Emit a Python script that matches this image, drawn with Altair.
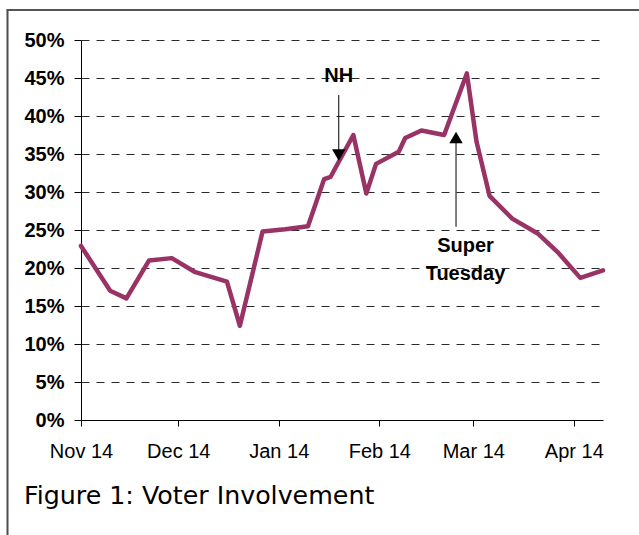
import altair as alt
import pandas as pd

# ---- data ----
dates = ["2003-11-14", "2003-11-23", "2003-11-28", "2003-12-05", "2003-12-12",
         "2003-12-19", "2003-12-29", "2004-01-02", "2004-01-09", "2004-01-16",
         "2004-01-23", "2004-01-28", "2004-01-30", "2004-02-06", "2004-02-10",
         "2004-02-13", "2004-02-20", "2004-02-22", "2004-02-27", "2004-03-05",
         "2004-03-12", "2004-03-15", "2004-03-19", "2004-03-26", "2004-04-03",
         "2004-04-09", "2004-04-16", "2004-04-23"]
involvement = [22.9, 17.0, 16.0, 21.0, 21.3,
               19.5, 18.2, 12.4, 24.8, 25.1,
               25.5, 31.7, 32.0, 37.5, 29.8,
               33.7, 35.3, 37.1, 38.1, 37.5,
               45.6, 36.6, 29.5, 26.5, 24.5,
               22.1, 18.7, 19.7]

tick_dates = ["2003-11-14", "2003-12-14", "2004-01-14", "2004-02-14", "2004-03-14", "2004-04-14"]
y_ticks = [0, 0.05, 0.10, 0.15, 0.20, 0.25, 0.30, 0.35, 0.40, 0.45, 0.50]
x_domain = ["2003-11-14", "2004-04-23"]

# annotations: arrow shafts, arrow heads, labels
arrow_dates = ["2004-02-01T12:00:00Z", "2004-03-08T16:00:00Z"]
arrow_from = [0.4276, 0.2543]
arrow_to = [0.3487, 0.3717]
head_shapes = ["triangle-down", "triangle-up"]
label_texts = ["NH", "Super", "Tuesday"]
label_dates = ["2004-02-01T12:00:00Z", "2004-03-11T14:00:00Z", "2004-03-11T14:00:00Z"]
label_values = [0.4451, 0.2214, 0.1842]

caption = ["Figure 1: Voter Involvement"]

LINE_COLOR = "#993366"
FONT = "Liberation Sans"


def dt(s):
    return alt.DateTime(year=int(s[:4]), month=int(s[5:7]), date=int(s[8:10]), utc=True)


df = pd.DataFrame({"date": dates, "value": [v / 100 for v in involvement]})
arrows = pd.DataFrame({"date": arrow_dates, "y1": arrow_from, "y2": arrow_to, "shape": head_shapes})
labels = pd.DataFrame({"date": label_dates, "value": label_values, "text": label_texts})
cap_df = pd.DataFrame({"text": caption})

xscale = alt.Scale(type="utc", domain=[dt(d) for d in x_domain], nice=False)
yscale = alt.Scale(domain=[0, 0.5], nice=False)

xaxis = alt.Axis(values=[dt(d) for d in tick_dates], format="%b %d", grid=False,
                 tickSize=6, tickColor="black", domainColor="black",
                 labelFont=FONT, labelFontSize=20, labelColor="black",
                 labelPadding=15, labelFlush=False, labelOverlap=False)
yaxis = alt.Axis(values=y_ticks, format=".0%", grid=True, gridColor="#2b2b2b",
                 gridDash=[8, 7], gridWidth=1, tickSize=7, tickColor="black",
                 domainColor="black", labelFont=FONT, labelFontSize=20,
                 labelFontWeight="bold", labelColor="black", labelPadding=10,
                 labelOverlap=False, labelFlush=False)


def X(field):
    return alt.X(field, type="temporal", scale=xscale, axis=xaxis, title=None)


def Y(field):
    return alt.Y(field, type="quantitative", scale=yscale, axis=yaxis, title=None)


line = alt.Chart(df).mark_line(color=LINE_COLOR, strokeWidth=4.5,
                               strokeJoin="round", strokeCap="round").encode(
    x=X("date"),
    y=Y("value"),
)

shafts = alt.Chart(arrows).mark_rule(color="black", strokeWidth=1).encode(
    x=X("date"),
    y=Y("y1"),
    y2="y2:Q",
)

heads = alt.Chart(arrows).mark_point(filled=True, color="black", opacity=1, size=180).encode(
    x=X("date"),
    y=Y("y2"),
    shape=alt.Shape("shape:N", scale=None, legend=None),
)

texts = alt.Chart(labels).mark_text(font=FONT, fontSize=20, fontWeight="bold",
                                    color="black", align="center",
                                    baseline="alphabetic").encode(
    x=X("date"),
    y=Y("value"),
    text="text:N",
)

cap = alt.Chart(cap_df).mark_text(font="DejaVu Sans", fontSize=25.3, color="black",
                                  align="left", baseline="alphabetic").encode(
    x=alt.value(-57), y=alt.value(464), text="text:N")

frame_df = pd.DataFrame({"k": [0]})
frame_left = alt.Chart(frame_df).mark_rule(color="#4d4d4d", strokeWidth=2).encode(
    x=alt.value(-73.5), y=alt.value(-30), y2=alt.value(495))
frame_top = alt.Chart(frame_df).mark_rule(color="#555555", strokeWidth=2).encode(
    x=alt.value(-74.5), x2=alt.value(558), y=alt.value(-30))

chart = alt.layer(frame_left, frame_top, line, shafts, heads, texts, cap).properties(
    width=522, height=380,
    padding={"left": 81, "top": 40, "right": 36, "bottom": 115},
    autosize=alt.AutoSizeParams(type="none"),
    background="white",
).configure_view(stroke=None)

chart.save("out.html", embed_options={"renderer": "svg", "actions": False})
